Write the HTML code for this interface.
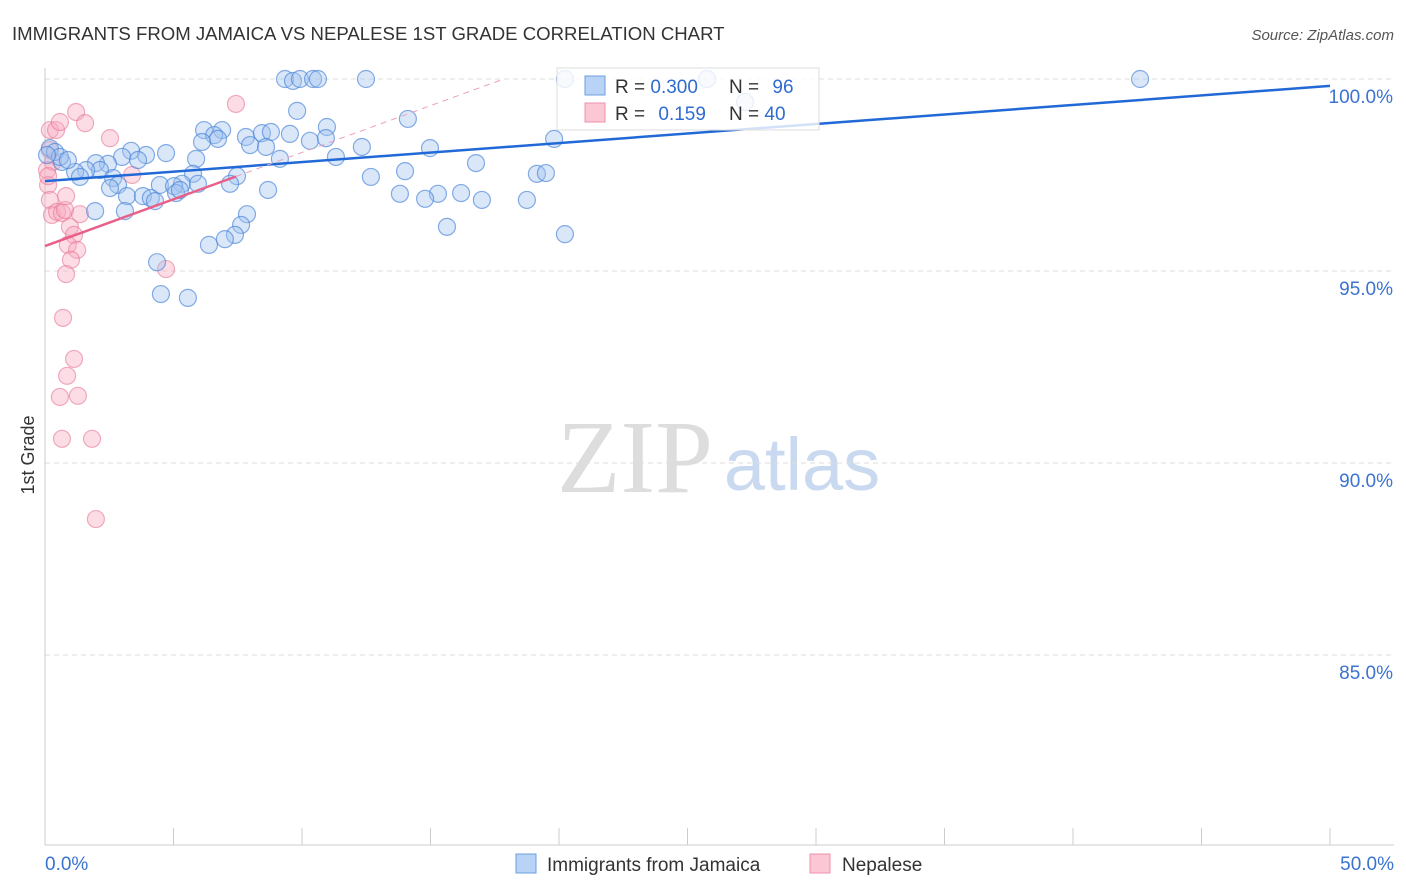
<!DOCTYPE html>
<html><head><meta charset="utf-8"><style>
body{margin:0;background:#fff;font-family:"Liberation Sans",sans-serif}
svg{display:block}
</style></head><body>
<svg id="c" width="1406" height="892" font-family="Liberation Sans, sans-serif">
<text x="12" y="40" font-size="18.6" fill="#333">IMMIGRANTS FROM JAMAICA VS NEPALESE 1ST GRADE CORRELATION CHART</text>
<text x="1394" y="40" font-size="15" fill="#555" font-style="italic" text-anchor="end">Source: ZipAtlas.com</text>
<text x="34" y="455" font-size="18" fill="#333" transform="rotate(-90 34 455)" text-anchor="middle">1st Grade</text>
<g><text x="635" y="492" font-size="104" fill="#ddd" font-family="Liberation Serif, serif" text-anchor="middle">ZIP</text><text x="802" y="490" font-size="74" fill="#c9d9ef" text-anchor="middle">atlas</text></g>
<g id="grid"></g><g id="axes"></g><g id="pts"></g><g id="trend"></g>
<g>
<rect x="557" y="68" width="262" height="62" fill="rgba(255,255,255,0.8)" stroke="#ddd"/>
<rect x="585" y="76" width="20" height="19" fill="#b8d3f5" stroke="#6d9fe0"/>
<rect x="585" y="103" width="20" height="19" fill="#fcc7d5" stroke="#ee92ac"/>
<text x="615" y="93" font-size="19" fill="#333">R = <tspan fill="#2f6bd0">0.300</tspan></text><text x="729" y="93" font-size="19" fill="#333">N = <tspan fill="#2f6bd0" dx="8">96</tspan></text>
<text x="615" y="120" font-size="19" fill="#333">R = <tspan fill="#2f6bd0" dx="8">0.159</tspan></text><text x="729" y="120" font-size="19" fill="#333">N = <tspan fill="#2f6bd0">40</tspan></text>
</g>
<g>
<rect x="516" y="854" width="20" height="19" fill="#b8d3f5" stroke="#6d9fe0"/>
<text x="547" y="871" font-size="19" fill="#333">Immigrants from Jamaica</text>
<rect x="810" y="854" width="20" height="19" fill="#fcc7d5" stroke="#ee92ac"/>
<text x="842" y="871" font-size="19" fill="#333">Nepalese</text>
</g>
</svg>
<script>
const yTicks=[100,95,90,85];
const xTickLabels=["0.0%","50.0%"];
const blueX=[9.34,9.65,9.92,10.43,10.62,12.49,20.23,25.76,42.61,9.81,14.12,27.24,6.19,6.89,6.58,6.73,6.11,7.82,8.44,8.79,9.53,10.31,10.97,10.93,7.98,8.60,12.33,14.98,19.81,9.14,11.32,5.88,4.71,3.93,3.35,3.00,3.62,2.45,1.98,2.14,1.60,1.17,1.36,0.66,0.19,0.39,0.58,0.89,0.08,14.01,16.77,12.68,19.14,19.49,7.47,5.76,5.33,4.47,5.02,5.95,2.65,2.84,2.53,7.20,8.68,13.81,15.29,16.19,14.79,17.00,18.75,3.19,3.81,4.12,4.28,5.10,5.25,1.95,3.11,7.86,7.63,7.39,7.00,6.38,15.64,20.23,4.36,4.51,5.56];
const blueY=[100,99.95,100,100,100,100,100,100,100,99.17,98.96,99.40,98.67,98.67,98.54,98.44,98.36,98.49,98.59,98.62,98.57,98.39,98.75,98.46,98.28,98.23,98.23,98.20,98.44,97.92,97.97,97.92,98.07,98.02,98.13,97.97,97.89,97.79,97.81,97.63,97.63,97.58,97.45,97.84,98.20,98.10,97.97,97.89,98.02,97.60,97.81,97.45,97.53,97.55,97.47,97.53,97.27,97.24,97.21,97.27,97.42,97.24,97.16,97.27,97.11,97.01,97.01,97.03,96.88,96.85,96.85,96.95,96.95,96.90,96.82,97.03,97.11,96.56,96.56,96.48,96.20,95.94,95.83,95.68,96.15,95.96,95.23,94.40,94.30];
const pinkX=[0.19,0.43,0.58,1.21,1.56,2.53,7.43,3.39,0.19,0.31,0.08,0.12,0.19,0.27,0.47,0.66,0.78,0.82,1.36,0.97,1.13,0.89,1.25,1.01,0.82,4.71,0.70,1.13,0.86,0.58,1.28,0.66,1.83,1.98,0.12];
const pinkY=[98.67,98.67,98.88,99.14,98.85,98.46,99.35,97.50,98.15,97.84,97.63,97.24,96.85,96.46,96.54,96.51,96.59,96.95,96.48,96.15,95.94,95.68,95.55,95.29,94.92,95.05,93.78,92.71,92.27,91.72,91.75,90.63,90.63,88.54,97.47];
const blueTrend=[97.34,99.82];
const pinkTrend=[95.65,0.2437];
const NS="http://www.w3.org/2000/svg";
const X=v=>45+v/50*1285, Y=v=>79+(100-v)*192/5;
function mk(p,t,a){const e=document.createElementNS(NS,t);for(const k in a)e.setAttribute(k,a[k]);document.getElementById(p).appendChild(e);return e;}
yTicks.forEach(t=>{
 const l=mk('grid','line',{x1:45,x2:1394,y1:Y(t),y2:Y(t),stroke:'#ddd','stroke-dasharray':'5,4'});
 
 
 const tx=mk('grid','text',{x:1393,y:Y(t)+24,'font-size':19,fill:'#3b73d0','text-anchor':'end'});tx.textContent=t.toFixed(1)+'%';
 
 
});
mk('axes','line',{x1:45,x2:45,y1:68,y2:845,stroke:'#ccc'});
mk('axes','line',{x1:45,x2:1394,y1:845,y2:845,stroke:'#ccc'});
for(let i=0;i<=10;i++){const t=mk('axes','line',{x1:X(i*5),x2:X(i*5),y1:828,y2:845,stroke:'#ccc'});
 
 }
[[0,'start',45],[50,'end',1394]].forEach((d,i)=>{const t=mk('axes','text',{x:d[2],y:870,'font-size':19,fill:'#3b73d0','text-anchor':d[1]});t.textContent=xTickLabels[i];
 
 });
pinkX.forEach((x,i)=>{const c=mk('pts','circle',{cx:X(x),cy:Y(pinkY[i]),r:8.5,fill:'rgba(248,170,192,0.4)',stroke:'rgba(232,120,150,0.6)','stroke-width':1.2});
 
 });
blueX.forEach((x,i)=>{const c=mk('pts','circle',{cx:X(x),cy:Y(blueY[i]),r:8.5,fill:'rgba(160,196,240,0.4)',stroke:'rgba(70,130,215,0.65)','stroke-width':1.2});
 
 });
const bt=mk('trend','line',{x1:X(0),y1:Y(blueTrend[0]),x2:X(50),y2:Y(blueTrend[1]),stroke:'#2169d6','stroke-width':2.5});


const pEnd=Math.max(...pinkX), pDash=(100-pinkTrend[0])/pinkTrend[1];
const pt=mk('trend','line',{x1:X(0),y1:Y(pinkTrend[0]),x2:X(pEnd),y2:Y(pinkTrend[0]+pinkTrend[1]*pEnd),stroke:'#e8608a','stroke-width':2.5});


const pd=mk('trend','line',{x1:X(pEnd),y1:Y(pinkTrend[0]+pinkTrend[1]*pEnd),x2:X(pDash),y2:Y(100),stroke:'#eda0b8','stroke-width':1,'stroke-dasharray':'6,5'});


</script>
</body></html>
